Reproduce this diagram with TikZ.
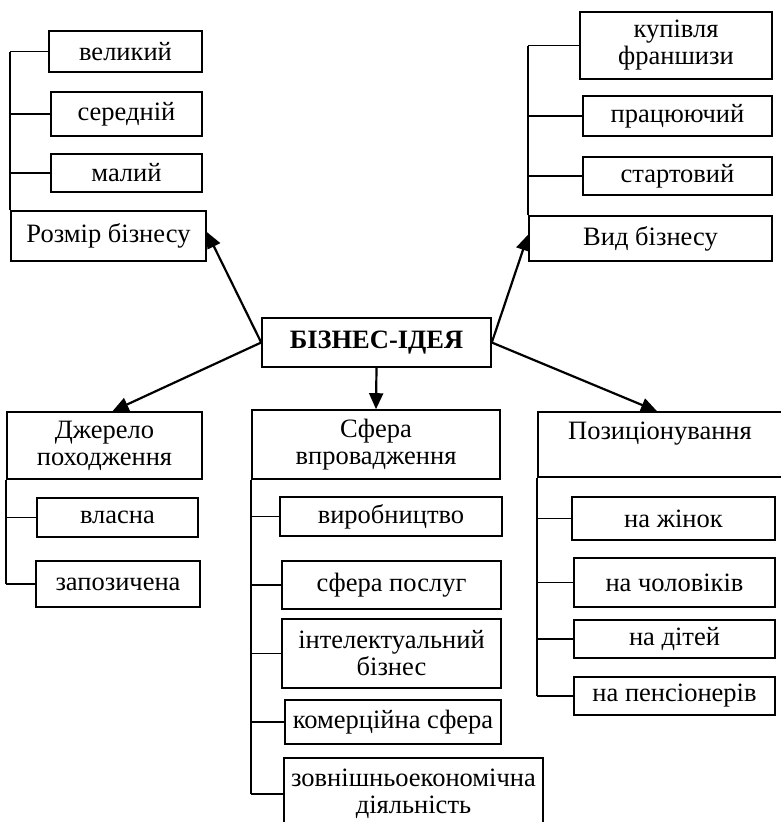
\documentclass[tikz,border=0pt]{standalone}
\usepackage{fontspec}
\setmainfont{Liberation Serif}
\usetikzlibrary{arrows.meta}

\tikzset{
  box/.style={draw, line width=1.6pt, inner sep=1pt, align=center,
    font=\fontsize{26.5}{27}\selectfont},
  arr/.style={line width=2.2pt, -{Triangle[length=16pt,width=14pt]}},
  link/.style={line width=1.6pt}
}

\begin{document}
\begin{tikzpicture}[x=1pt,y=-1pt]
\useasboundingbox (0,0) rectangle (780,822);
% centre
\node[box, minimum width=229, minimum height=49, font=\fontsize{26.5}{27}\selectfont\bfseries] (idea) at (376.5,342.5) {БІЗНЕС-ІДЕЯ};

% size of business
\node[box, minimum width=153, minimum height=41] (big) at (125.5,51.5) {великий};
\node[box, minimum width=151, minimum height=44] (mid) at (126.5,114) {середній};
\node[box, minimum width=151, minimum height=38] (small) at (126.5,173) {малий};
\node[box, minimum width=195, minimum height=50] (size) at (108.5,236) {Розмір бізнесу};
\draw[link] (size.north west) -- (size.west |- big.west);
\foreach \n in {big,mid,small}
    \draw[link] (size.west |- \n.west) -- (\n.west);

% kind of business
\node[box, minimum width=192, minimum height=67] (franch) at (676,45.5) {купівля\\франшизи};
\node[box, minimum width=189, minimum height=40] (working) at (677.5,116) {працюючий};
\node[box, minimum width=189, minimum height=38] (startup) at (677.5,176) {стартовий};
\node[box, minimum width=243, minimum height=45] (kind) at (650.5,238.5) {Вид бізнесу};
\draw[link] (kind.north west) -- (kind.west |- franch.west);
\foreach \n in {franch,working,startup}
    \draw[link] (kind.west |- \n.west) -- (\n.west);

% source
\node[box, minimum width=195, minimum height=67] (source) at (104.5,445.5) {Джерело\\походження};
\node[box, minimum width=161, minimum height=39] (own) at (117.5,517.5) {власна};
\node[box, minimum width=164, minimum height=46] (borrowed) at (118,584) {запозичена};
\draw[link] (source.south west) -- (source.west |- borrowed.west);
\foreach \n in {own,borrowed}
    \draw[link] (source.west |- \n.west) -- (\n.west);

% sphere
\node[box, minimum width=248, minimum height=69] (sphere) at (376,444.5) {Сфера\\впровадження};
\node[box, minimum width=222, minimum height=39] (prod) at (391,516.5) {виробництво};
\node[box, minimum width=219, minimum height=48] (serv) at (391.5,585) {сфера послуг};
\node[box, minimum width=219, minimum height=69] (intel) at (391.5,653.5) {інтелектуальний\\бізнес};
\node[box, minimum width=216, minimum height=44] (comm) at (393,722) {комерційна сфера};
\node[box, minimum width=259, minimum height=72] (foreign) at (413.5,794) {зовнішньоекономічна\\діяльність};
\draw[link] (sphere.south west) -- (sphere.west |- foreign.west);
\foreach \n in {prod,serv,intel,comm,foreign}
    \draw[link] (sphere.west |- \n.west) -- (\n.west);

% positioning
\node[box, minimum width=244, minimum height=65] (pos) at (660,444.5) {Позиціонування\\\mbox{}};
\node[box, minimum width=203, minimum height=43] (women) at (673.5,518.5) {на жінок};
\node[box, minimum width=201, minimum height=49] (men) at (674.5,582.5) {на чоловіків};
\node[box, minimum width=201, minimum height=38] (kids) at (674.5,639) {на дітей};
\node[box, minimum width=201, minimum height=38] (pens) at (674.5,696) {на пенсіонерів};
\draw[link] (pos.south west) -- (pos.west |- pens.west);
\foreach \n in {women,men,kids,pens}
    \draw[link] (pos.west |- \n.west) -- (\n.west);

% arrows
\draw[arr] (idea.west) -- ([yshift=4]size.east);
\draw[arr] (idea.west) -- ([xshift=8]source.north);
\draw[arr] (idea.south) -- (sphere.north);
\draw[arr] (idea.east) -- ([yshift=4]kind.west);
\draw[arr] (idea.east) -- ([xshift=-3]pos.north);
\end{tikzpicture}
\end{document}
